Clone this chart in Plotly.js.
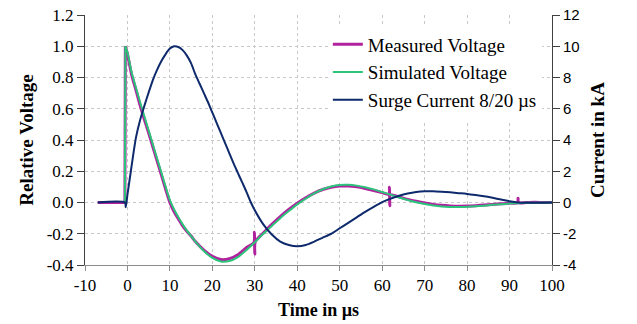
<!DOCTYPE html>
<html>
<head>
<meta charset="utf-8">
<script src="https://cdn.plot.ly/plotly-3.0.1.min.js"></script>
<style>html,body{margin:0;padding:0;background:#fff}#chart{width:637px;height:324px}</style>
</head>
<body>
<div id="chart"></div>
<script>
// Measured voltage (relative)
const tMeas = [-7, -0.6, -0.5, 0, 1, 2, 3, 4, 5, 6, 7, 8, 9, 10, 11, 12, 13, 14, 15, 16, 18, 20, 22, 24, 26, 28, 29.8, 29.9, 30.0, 30.1, 32, 34, 36, 38, 40, 42, 44, 46, 48, 50, 52, 54, 56, 58, 60, 61.6, 61.7, 61.8, 61.9, 64, 66, 68, 70, 72, 74, 76, 78, 80, 82, 84, 86, 88, 90, 91.9, 92.0, 92.1, 94, 96, 98, 100];
const vMeas = [0, 0, 1.0, 0.95, 0.815, 0.72, 0.62, 0.53, 0.445, 0.355, 0.265, 0.175, 0.085, 0.0, -0.06, -0.105, -0.15, -0.185, -0.215, -0.25, -0.305, -0.345, -0.365, -0.36, -0.335, -0.29, -0.255, -0.19, -0.33, -0.25, -0.195, -0.14, -0.09, -0.045, -0.005, 0.03, 0.06, 0.083, 0.098, 0.105, 0.105, 0.1, 0.09, 0.077, 0.063, 0.052, 0.098, -0.02, 0.05, 0.035, 0.02, 0.008, -0.003, -0.012, -0.018, -0.022, -0.024, -0.023, -0.02, -0.016, -0.012, -0.008, -0.004, -0.002, 0.028, -0.001, 0, 0.001, 0, 0];

// Simulated voltage (relative)
const tSim = [-0.6, -0.5, 0, 1, 2, 3, 4, 5, 6, 7, 8, 9, 10, 11, 12, 13, 14, 15, 16, 18, 20, 22, 24, 26, 28, 30, 32, 34, 36, 38, 40, 42, 44, 46, 48, 50, 52, 54, 56, 58, 60, 62, 64, 66, 68, 70, 72, 74, 76, 78, 80, 82, 84, 86, 88, 90, 92, 94, 96, 100];
const vSim = [0, 1.0, 0.96, 0.83, 0.735, 0.64, 0.55, 0.46, 0.37, 0.28, 0.19, 0.1, 0.015, -0.045, -0.095, -0.14, -0.18, -0.215, -0.25, -0.31, -0.355, -0.378, -0.375, -0.35, -0.305, -0.255, -0.2, -0.15, -0.1, -0.055, -0.012, 0.025, 0.058, 0.085, 0.103, 0.112, 0.113, 0.108, 0.098, 0.084, 0.067, 0.05, 0.032, 0.016, 0.002, -0.01, -0.019, -0.025, -0.028, -0.029, -0.027, -0.024, -0.02, -0.015, -0.011, -0.007, -0.004, -0.002, -0.001, 0];

// Surge current 8/20 µs (kA)
const tCur = [-7, -0.6, -0.4, 0, 0.8, 2, 3, 4, 5, 6, 7, 8, 9, 10, 11, 12, 13, 14, 15, 16, 17, 18, 19, 20, 21, 22, 23, 24, 25, 26, 27, 28, 29, 30, 32, 34, 36, 38, 40, 42, 44, 46, 48, 50, 52, 54, 56, 58, 60, 62, 64, 66, 68, 70, 72, 74, 76, 78, 80, 82, 84, 86, 88, 90, 92, 94, 96, 98, 100];
const iCur = [0, 0, -0.3, 0.5, 2.0, 4.15, 5.3, 6.2, 7.05, 7.85, 8.5, 9.05, 9.5, 9.85, 10.0, 9.95, 9.75, 9.4, 8.9, 8.2, 7.6, 7.0, 6.4, 5.75, 5.1, 4.45, 3.8, 3.15, 2.5, 1.9, 1.3, 0.7, 0.05, -0.5, -1.4, -2.05, -2.5, -2.72, -2.8, -2.72, -2.5, -2.25, -2.0, -1.65, -1.3, -0.95, -0.6, -0.28, 0.02, 0.25, 0.43, 0.57, 0.67, 0.72, 0.72, 0.69, 0.65, 0.6, 0.55, 0.48, 0.4, 0.3, 0.19, 0.08, 0.0, -0.02, -0.02, -0.01, 0];

const names = ["Measured Voltage", "Simulated Voltage", "Surge Current 8/20 \u00b5s"];

// Tick labels
const xTickVals = [-10, 0, 10, 20, 30, 40, 50, 60, 70, 80, 90, 100];
const xTickText = ["-10", "0", "10", "20", "30", "40", "50", "60", "70", "80", "90", "100"];
const yTickVals = [-0.4, -0.2, 0, 0.2, 0.4, 0.6, 0.8, 1.0, 1.2];
const yTickText = ["-0.4", "-0.2", "0.0", "0.2", "0.4", "0.6", "0.8", "1.0", "1.2"];
const y2TickVals = [-4, -2, 0, 2, 4, 6, 8, 10, 12];
const y2TickText = ["-4", "-2", "0", "2", "4", "6", "8", "10", "12"];

const serif = "Times New Roman, Liberation Serif, serif";
const sans = "Liberation Sans, Arial, sans-serif";
const grid = {showgrid: true, gridcolor: "#C8C8C8", griddash: "3px,3px", gridwidth: 1, zeroline: false};

const cMeas = "#B0229E", cSim = "#2CC47A", cCur = "#0E2A6C";
// index where the step (jump to the peak) ends in each voltage series
const jMeas = tMeas.indexOf(-0.5), jSim = tSim.indexOf(-0.5);
const smooth = {shape: "spline", smoothing: 0.7};

const traces = [
  // Measured: linear step part + smooth decay part (one legend entry)
  {x: tMeas.slice(0, jMeas + 1), y: vMeas.slice(0, jMeas + 1), name: names[0], type: "scatter", mode: "lines",
   line: {color: cMeas, width: 3}, legendgroup: "a", showlegend: true},
  {x: tMeas.slice(jMeas), y: vMeas.slice(jMeas), name: names[0], type: "scatter", mode: "lines",
   line: Object.assign({color: cMeas, width: 3}, smooth), legendgroup: "a", showlegend: false},
  // Simulated
  {x: tSim.slice(0, jSim + 1), y: vSim.slice(0, jSim + 1), name: names[1], type: "scatter", mode: "lines",
   line: {color: cSim, width: 2}, legendgroup: "b", showlegend: true},
  {x: tSim.slice(jSim), y: vSim.slice(jSim), name: names[1], type: "scatter", mode: "lines",
   line: Object.assign({color: cSim, width: 2}, smooth), legendgroup: "b", showlegend: false},
  // Current
  {x: tCur, y: iCur, name: names[2], type: "scatter", mode: "lines", yaxis: "y2",
   line: Object.assign({color: cCur, width: 2}, smooth), legendgroup: "c"}
];

const layout = {
  width: 637, height: 324,
  margin: {l: 85, r: 85, t: 15, b: 59},
  paper_bgcolor: "#fff", plot_bgcolor: "#fff",
  font: {family: serif, color: "#000"},
  xaxis: Object.assign({}, grid, {
    range: [-10, 100], tickmode: "array", tickvals: xTickVals, ticktext: xTickText,
    showline: true, linecolor: "#8C8C8C", linewidth: 1,
    ticks: "outside", ticklen: 5, tickcolor: "#8C8C8C",
    tickfont: {family: serif, size: 17, color: "#000"},
    title: {text: "Time in \u00b5s", font: {family: serif, size: 18, weight: "bold"}, standoff: 8}
  }),
  yaxis: Object.assign({}, grid, {
    range: [-0.4, 1.2], tickmode: "array", tickvals: yTickVals, ticktext: yTickText,
    showline: true, linecolor: "#404040", linewidth: 1,
    ticks: "outside", ticklen: 7, tickcolor: "#404040",
    tickfont: {family: serif, size: 17, color: "#000"},
    title: {text: "Relative Voltage", font: {family: serif, size: 19, weight: "bold"}, standoff: 8}
  }),
  yaxis2: {
    overlaying: "y", side: "right", range: [-4, 12],
    tickmode: "array", tickvals: y2TickVals, ticktext: y2TickText,
    showgrid: false, zeroline: false,
    showline: true, linecolor: "#404040", linewidth: 1,
    ticks: "outside", ticklen: 7, tickcolor: "#404040",
    tickfont: {family: sans, size: 15, color: "#000"},
    title: {text: "Current in kA", font: {family: serif, size: 19, weight: "bold"}, standoff: 12}
  },
  showlegend: true,
  legend: {
    x: 0.52, y: 0.958, xanchor: "left", yanchor: "top",
    bgcolor: "#fff", borderwidth: 0,
    font: {family: serif, size: 19, color: "#000"},
    traceorder: "grouped", tracegroupgap: 0
  }
};

Plotly.newPlot("chart", traces, layout, {displayModeBar: false, staticPlot: true});
</script>
</body>
</html>
